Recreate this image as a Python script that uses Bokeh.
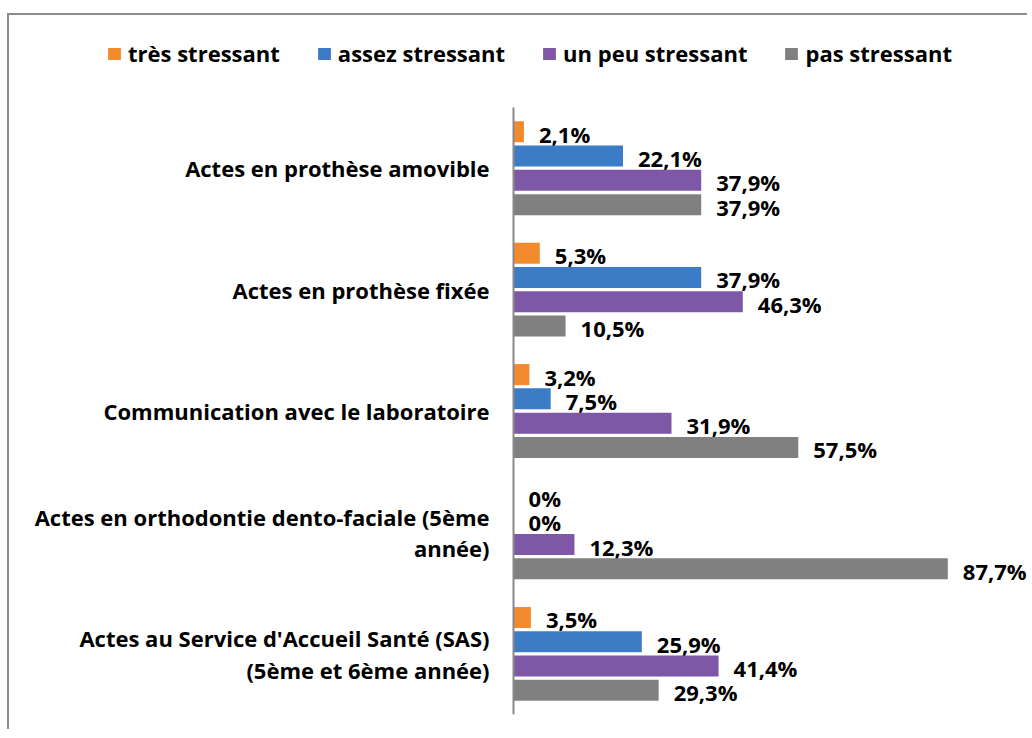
from bokeh.plotting import figure
from bokeh.models import Range1d, Legend, LegendItem, ColumnDataSource, FixedTicker
from bokeh.embed import file_html
from bokeh.resources import INLINE

categories = [
    "Actes en prothèse amovible",
    "Actes en prothèse fixée",
    "Communication avec le laboratoire",
    "Actes en orthodontie dento-faciale (5ème\nannée)",
    "Actes au Service d'Accueil Santé (SAS)\n(5ème et 6ème année)",
]
series_names = ["très stressant", "assez stressant", "un peu stressant", "pas stressant"]
tres = [2.1, 5.3, 3.2, 0.0, 3.5]
assez = [22.1, 37.9, 7.5, 0.0, 25.9]
un_peu = [37.9, 46.3, 31.9, 12.3, 41.4]
pas = [37.9, 10.5, 57.5, 87.7, 29.3]

colors = ["#F38A2C", "#3C7BC6", "#7E58A6", "#808080"]
offsets = [0.30, 0.10, -0.10, -0.30]
FONT = "Open Sans"

def fmt(v):
    if v == 0:
        return "0%"
    return f"{v:.1f}".replace(".", ",") + "%"

n = len(categories)
cat_pos = [n - i - 0.5 for i in range(n)]

p = figure(
    width=1020, height=716,
    y_range=Range1d(0, n + 0.758),
    x_range=Range1d(-101.8, 104.2),
    output_backend="svg", toolbar_location=None,
    x_axis_location=None,
    min_border_left=0, min_border_top=0, min_border_bottom=17, min_border_right=0,
)
p.styles = {
    "margin-left": "7px", "margin-top": "13px",
    "border-left": "2px solid #8c8c8c", "border-top": "2px solid #8c8c8c",
}
p.outline_line_color = None
p.xgrid.visible = False
p.ygrid.visible = False

yax = p.yaxis[0]
yax.fixed_location = 0
yax.bounds = (0, n)
yax.ticker = FixedTicker(ticks=cat_pos)
yax.major_label_overrides = {pos: cat for pos, cat in zip(cat_pos, categories)}
yax.axis_line_color = "#898989"
yax.axis_line_width = 2
yax.major_tick_line_color = None
yax.minor_tick_line_color = None
yax.major_tick_out = 0
yax.major_tick_in = 0
yax.major_label_standoff = 24
yax.major_label_text_font = FONT
yax.major_label_text_font_style = "bold"
yax.major_label_text_font_size = "22px"
yax.major_label_text_color = "#000000"
yax.major_label_text_line_height = 1.06
yax.major_label_text_align = "center"

series = [tres, assez, un_peu, pas]
items = []
for name, vals, col, off in zip(series_names, series, colors, offsets):
    ys = [c + off for c in cat_pos]
    src = ColumnDataSource(dict(y=ys, val=vals, lbl=[fmt(v) for v in vals]))
    r = p.hbar(y="y", right="val", left=0, height=0.173,
               source=src, fill_color=col, line_color=None)
    p.text(x="val", y="y", text="lbl", source=src,
           x_offset=15, y_offset=2, text_align="left", text_baseline="middle",
           text_font_size="22px", text_font_style="bold", text_color="#000000",
           text_font={"value": FONT})
    items.append(LegendItem(label=name, renderers=[r]))

legend = Legend(items=items, orientation="horizontal", location=(97, 646),
                label_text_font=FONT, label_text_font_style="bold", label_text_font_size="22px",
                label_text_color="#000000", glyph_width=16, glyph_height=15,
                label_standoff=6, spacing=36, padding=4, margin=0,
                border_line_color=None, background_fill_alpha=0)
p.add_layout(legend, "center")

open("out.html", "w").write(file_html(p, INLINE))
